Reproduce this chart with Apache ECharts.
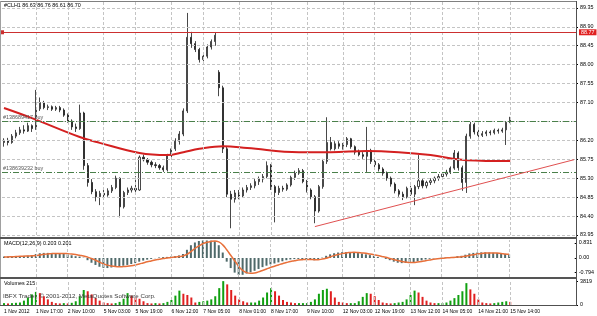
<!DOCTYPE html>
<html><head><meta charset="utf-8">
<script src="https://cdn.jsdelivr.net/npm/echarts@6/dist/echarts.min.js"></script>
<style>html,body{margin:0;padding:0;background:#fff}#c{width:597px;height:316px}</style>
</head><body><div id="c"></div>
<script>
const headerText = '#CLH1 86.63 86.76 86.61 86.70';
const macdText = 'MACD(12,26,9) 0.203 0.201';
const volText = 'Volumes 215';
const watermark = 'IBFX Trader, \u00a9 2001-2012, MetaQuotes Software Corp.';

const open  = [86.15,86.20,86.15,86.30,86.38,86.45,86.42,86.55,86.48,86.95,87.10,86.98,87.00,86.94,86.98,86.92,86.80,86.66,86.52,86.48,86.85,85.60,85.20,84.98,84.86,84.94,84.90,85.00,85.08,85.30,84.62,84.96,85.02,85.06,85.02,85.80,85.74,85.68,85.62,85.60,85.55,85.50,85.85,86.00,86.18,86.35,86.90,88.65,88.50,88.36,88.12,88.20,88.42,88.55,87.82,87.45,86.00,84.92,84.80,84.95,84.88,85.02,85.08,85.12,85.22,85.28,85.34,85.60,85.10,84.96,85.06,85.04,85.14,85.32,85.42,85.48,85.22,85.02,84.86,84.52,85.10,85.70,86.15,86.00,86.12,86.06,86.10,86.24,86.05,85.92,85.86,85.82,85.96,85.70,85.62,85.52,85.42,85.30,85.16,85.00,84.92,84.86,85.06,84.92,85.10,85.24,85.12,85.20,85.24,85.30,85.34,85.40,85.44,85.54,85.90,85.55,85.20,86.30,86.58,86.40,86.32,86.36,86.40,86.38,86.44,86.42,86.45,86.63];
const close = [86.20,86.15,86.30,86.38,86.45,86.42,86.55,86.48,86.95,87.10,86.98,87.00,86.94,86.98,86.92,86.80,86.66,86.52,86.48,86.85,85.60,85.20,84.98,84.86,84.94,84.90,85.00,85.08,85.30,84.62,84.96,85.02,85.06,85.02,85.80,85.74,85.68,85.62,85.60,85.55,85.50,85.85,86.00,86.18,86.35,86.90,88.65,88.50,88.36,88.12,88.20,88.42,88.55,88.70,87.45,86.00,84.92,84.80,84.95,84.88,85.02,85.08,85.12,85.22,85.28,85.34,85.60,85.10,84.96,85.06,85.04,85.14,85.32,85.42,85.48,85.22,85.02,84.86,84.52,85.10,85.70,86.15,86.00,86.12,86.06,86.10,86.24,86.05,85.92,85.86,85.82,85.96,85.70,85.62,85.52,85.42,85.30,85.16,85.00,84.92,84.86,85.06,84.92,85.10,85.24,85.12,85.20,85.24,85.30,85.34,85.40,85.44,85.54,85.90,85.55,85.20,86.30,86.58,86.40,86.32,86.36,86.40,86.38,86.44,86.42,86.45,86.63,86.70];
const low   = [86.05,86.08,86.12,86.25,86.33,86.36,86.40,86.40,86.45,86.90,86.94,86.92,86.90,86.90,86.87,86.76,86.62,86.45,86.40,86.45,85.50,85.10,84.92,84.75,84.66,84.82,84.86,84.95,85.04,84.37,84.58,84.90,84.96,84.96,85.00,85.70,85.62,85.56,85.54,85.50,85.45,85.46,85.80,85.95,86.10,86.30,86.85,88.40,88.30,88.05,88.08,88.15,88.36,88.45,87.25,85.90,84.85,84.11,84.72,84.80,84.84,84.96,85.02,85.06,85.14,85.20,85.30,85.02,84.25,84.90,84.98,85.00,85.10,85.26,85.38,85.18,84.96,84.80,84.23,84.48,85.05,85.64,85.96,85.96,86.00,85.98,86.04,86.00,85.86,85.82,85.76,85.45,85.64,85.56,85.46,85.36,85.24,85.10,84.94,84.86,84.78,84.82,84.88,84.66,85.04,85.06,85.06,85.14,85.18,85.24,85.28,85.34,85.40,85.50,85.48,85.00,84.95,86.24,86.34,86.26,86.28,86.30,86.32,86.34,86.36,86.38,86.09,86.61];
const high  = [86.25,86.26,86.35,86.45,86.52,86.56,86.62,86.58,87.40,87.22,87.14,87.05,87.03,87.02,87.02,86.96,86.84,86.70,86.60,87.05,86.88,85.66,85.28,85.04,85.00,85.02,85.06,85.14,85.36,85.32,85.00,85.08,85.12,85.35,85.84,85.86,85.78,85.72,85.68,85.64,85.60,85.88,86.05,86.25,86.42,86.96,89.23,88.78,88.56,88.40,88.26,88.48,88.60,88.77,87.87,87.50,86.05,85.00,85.02,85.02,85.08,85.14,85.18,85.28,85.34,85.40,85.70,85.64,85.14,85.12,85.12,85.18,85.36,85.48,85.54,85.52,85.26,85.06,84.90,85.14,85.76,86.75,86.28,86.18,86.18,86.14,86.28,86.26,86.08,85.98,85.92,86.52,86.00,85.74,85.66,85.56,85.46,85.34,85.20,85.04,84.98,85.10,85.12,85.14,85.85,85.28,85.24,85.30,85.34,85.40,85.44,85.50,85.58,85.97,85.94,85.60,86.36,86.64,86.62,86.46,86.42,86.44,86.44,86.48,86.48,86.50,86.66,86.76];

const volumes = [300,250,300,350,
 400,700,1200,1700,2100,1900,1400,900,500,300,250,
 300,250,350,
 600,1400,2400,2200,1700,1100,700,400,300,250,300,
 500,1000,1900,1500,1200,1000,600,300,
 250,300,250,
 300,500,800,1500,2300,1800,1600,1200,400,500,600,700,900,1400,
 2700,3819,3300,2400,1500,900,600,400,400,
 400,700,1200,2000,2700,2200,1500,800,500,400,300,300,300,
 300,500,900,1800,2400,2600,2200,1200,500,400,300,300,
 300,600,1300,1900,1800,1400,800,400,300,250,300,400,
 500,900,1600,2300,2000,1300,700,400,300,300,300,
 400,700,1100,1600,2200,3500,2500,1800,900,400,300,250,300,400,500,600,500];

const macdMain = [0.08,0.09,0.10,0.10,0.11,0.12,0.13,0.15,
 0.22,0.26,0.28,0.28,0.28,0.27,0.26,0.24,0.20,
 0.15,0.10,0.08,0.02,
 -0.12,-0.26,-0.38,-0.48,-0.54,
 -0.55,-0.52,-0.48,-0.45,-0.42,-0.38,-0.33,-0.28,-0.20,-0.14,-0.09,-0.05,-0.01,
 0.03,0.05,0.06,0.08,0.10,0.14,0.22,
 0.45,0.70,0.85,0.93,
 0.96,0.96,0.95,0.92,
 0.70,0.30,
 -0.20,-0.55,-0.80,-0.93,-0.92,
 -0.85,-0.78,-0.70,-0.60,-0.50,-0.42,-0.35,-0.30,-0.24,-0.18,-0.12,
 -0.08,-0.06,-0.05,-0.06,-0.08,-0.10,-0.12,-0.08,
 0.02,0.12,0.20,0.26,0.30,0.32,0.33,
 0.32,0.30,0.27,0.24,0.20,0.16,0.11,0.06,0.01,
 -0.05,-0.12,-0.20,-0.26,-0.28,-0.27,-0.25,-0.22,-0.18,-0.13,-0.08,
 -0.04,-0.02,0.00,0.02,0.03,0.04,0.06,
 0.10,0.12,0.18,
 0.25,0.28,0.30,0.31,0.31,0.30,0.29,0.27,0.25,0.22,0.203];
const macdSignal = [0.05,0.06,0.07,0.08,0.09,0.10,0.11,0.12,
 0.14,0.17,0.20,0.22,0.24,0.25,0.25,0.25,0.24,
 0.22,0.19,0.15,0.11,
 0.05,-0.03,-0.12,-0.22,-0.32,
 -0.39,-0.44,-0.47,-0.48,-0.47,-0.45,-0.42,-0.38,-0.33,-0.27,-0.21,-0.16,-0.11,
 -0.07,-0.03,0.00,0.03,0.05,0.08,0.11,
 0.20,0.35,0.52,0.66,
 0.78,0.86,0.91,0.93,
 0.88,0.72,
 0.45,0.15,-0.15,-0.45,-0.68,
 -0.80,-0.84,-0.82,-0.76,-0.68,-0.60,-0.52,-0.45,-0.38,-0.31,-0.25,
 -0.19,-0.15,-0.11,-0.09,-0.08,-0.08,-0.09,-0.09,
 -0.06,-0.01,0.06,0.13,0.19,0.24,0.28,
 0.30,0.31,0.30,0.28,0.26,0.22,0.18,0.14,0.09,
 0.04,-0.02,-0.08,-0.14,-0.19,-0.22,-0.24,-0.24,-0.22,-0.19,-0.15,
 -0.11,-0.07,-0.04,-0.02,0.00,0.02,0.03,
 0.05,0.07,0.10,
 0.14,0.18,0.22,0.25,0.27,0.28,0.28,0.27,0.25,0.22,0.201];

const maIdx = [0,7,19,24,34,41,45,49,55,61,74,82,91,99,107,116,127];
const maVal = [86.97,86.73,86.28,86.14,85.90,85.85,85.92,86.00,86.06,86.02,85.92,85.92,85.95,85.92,85.85,85.73,85.71];

const priceTicks = [83.95,84.40,84.85,85.30,85.75,86.20,86.65,87.10,87.55,88.00,88.45,88.90,89.35];
const macdTicks = [0.831,0,-0.794];
const volTicks = [0,3819];
const timeLabels = ['1 Nov 2012','1 Nov 17:00','2 Nov 10:00','5 Nov 03:00','5 Nov 19:00','6 Nov 12:00','7 Nov 05:00','8 Nov 01:00','8 Nov 17:00','9 Nov 10:00','12 Nov 03:00','12 Nov 19:00','13 Nov 12:00','14 Nov 05:00','14 Nov 21:00','15 Nov 14:00'];
const timeIdx = [0,8,16,25,33,42,50,59,67,76,85,93,102,110,119,127];

const resistance = 88.77;
const buyLevels = [86.66, 85.45];
const buyLabels = ['#138689417 buy', '#138639232 buy'];
const lastPrice = 86.70;
const trendStart = [78, 84.15];
const trendEnd = [143, 85.74];
const SLOTS = 144;

const FONT = 'Liberation Sans';
const FS = 5.4;
const slots = Array.from({length: SLOTS}, (_, i) => String(i));
const candles = open.map((o, i) => [o, close[i], low[i], high[i]]);
const volData = volumes.map((v, i) => ({
  value: v,
  itemStyle: {color: (i > 0 && v < volumes[i - 1]) ? '#e02020' : '#10a010'}
}));
const gridColor = '#c4c4c4';
const vGrid = timeIdx.filter(i => i > 0).map(i => ({xAxis: i}));

function gridSeries(g, withH) {
  const d = vGrid.slice();
  if (withH) priceTicks.forEach(v => d.push({yAxis: v}));
  return {
    type: 'line', xAxisIndex: g, yAxisIndex: g, data: [], silent: true, z: 0,
    markLine: {silent: true, symbol: 'none', animation: false,
      lineStyle: {color: gridColor, type: [3, 2], width: 1},
      label: {show: false}, data: d}
  };
}

const xAxisBase = (g, showLabel) => ({
  type: 'category', gridIndex: g, data: slots, boundaryGap: true,
  axisLine: {show: false}, axisTick: {show: false}, splitLine: {show: false},
  axisLabel: showLabel ? {
    show: true, interval: (idx) => timeIdx.indexOf(idx) >= 0,
    formatter: (val, idx) => { const k = timeIdx.indexOf(Number(val)); return k >= 0 ? timeLabels[k] : ''; },
    align: 'left', margin: 4, color: '#000', fontSize: 5.0, fontFamily: FONT
  } : {show: false}
});

const yLabelStyle = {color: '#000', fontSize: FS, fontFamily: FONT, margin: 4};

const option = {
  animation: false,
  backgroundColor: '#ffffff',
  grid: [
    {left: 2, top: 2, width: 574, height: 233},
    {left: 2, top: 240, width: 574, height: 37},
    {left: 2, top: 280, width: 574, height: 25}
  ],
  xAxis: [xAxisBase(0, false), xAxisBase(1, false), xAxisBase(2, true)],
  yAxis: [
    {type: 'value', gridIndex: 0, position: 'right', min: 83.95, max: 89.49, scale: true,
      axisLine: {show: false}, splitLine: {show: false},
      axisTick: {show: true, length: 2, lineStyle: {color: '#000'},
        customValues: priceTicks.filter(v => Math.abs(v - lastPrice) > 0.1)},
      axisLabel: Object.assign({customValues: priceTicks.filter(v => Math.abs(v - lastPrice) > 0.1),
        formatter: v => Number(v).toFixed(2)}, yLabelStyle)},
    {type: 'value', gridIndex: 1, position: 'right', min: -1.04, max: 0.986,
      axisLine: {show: false}, splitLine: {show: false},
      axisTick: {show: true, length: 2, lineStyle: {color: '#000'}, customValues: macdTicks},
      axisLabel: Object.assign({customValues: macdTicks,
        formatter: v => (Math.abs(v) < 1e-9 ? '0.00' : String(v))}, yLabelStyle)},
    {type: 'value', gridIndex: 2, position: 'right', min: 0, max: 4000,
      axisLine: {show: false}, splitLine: {show: false},
      axisTick: {show: true, length: 2, lineStyle: {color: '#000'}, customValues: volTicks},
      axisLabel: Object.assign({customValues: volTicks, formatter: v => String(v)}, yLabelStyle)}
  ],
  series: [
    gridSeries(0, true), gridSeries(1, false), gridSeries(2, false),
    {
      type: 'candlestick', xAxisIndex: 0, yAxisIndex: 0, data: candles, barWidth: 1.6, z: 3,
      itemStyle: {color: '#ffffff', color0: '#202020', borderColor: '#1a1a1a', borderColor0: '#1a1a1a', borderWidth: 0.8},
      markLine: {
        silent: true, animation: false, symbol: 'none',
        data: [
          {yAxis: resistance, symbol: ['emptyRect', 'emptyRect'], symbolSize: 4,
            lineStyle: {color: '#cc3030', type: 'solid', width: 1},
            label: {show: true, position: 'end', distance: 3, formatter: resistance.toFixed(2),
              color: '#fff', backgroundColor: '#e02020', padding: [1, 2, 0, 2], fontSize: FS, fontFamily: FONT}},
          {yAxis: buyLevels[0], lineStyle: {color: '#4a804a', type: [6, 2, 1, 2], width: 1},
            label: {show: true, position: 'insideStartTop', distance: 1, formatter: buyLabels[0],
              color: '#555', fontSize: FS, fontFamily: FONT}},
          {yAxis: buyLevels[1], lineStyle: {color: '#4a804a', type: [6, 2, 1, 2], width: 1},
            label: {show: true, position: 'insideStartTop', distance: 1, formatter: buyLabels[1],
              color: '#555', fontSize: FS, fontFamily: FONT}},
          {yAxis: lastPrice, lineStyle: {opacity: 0},
            label: {show: true, position: 'end', distance: 3, formatter: lastPrice.toFixed(2),
              color: '#fff', backgroundColor: '#000', padding: [1, 2, 0, 2], fontSize: FS, fontFamily: FONT}},
          [{coord: trendStart, lineStyle: {color: '#e05050', width: 1, type: 'solid'}, label: {show: false}},
           {coord: trendEnd}]
        ]
      }
    },
    {
      type: 'line', xAxisIndex: 0, yAxisIndex: 0, z: 4,
      data: maIdx.map((x, k) => [x, maVal[k]]), smooth: 0.4, showSymbol: false, silent: true,
      lineStyle: {color: '#d42020', width: 2}
    },
    {
      type: 'bar', xAxisIndex: 1, yAxisIndex: 1, data: macdMain, barWidth: 2, z: 3,
      itemStyle: {color: '#4f6a6a'}
    },
    {
      type: 'line', xAxisIndex: 1, yAxisIndex: 1, data: macdSignal, showSymbol: false, smooth: true, z: 4,
      lineStyle: {color: '#e8703a', width: 1.5}
    },
    {
      type: 'bar', xAxisIndex: 2, yAxisIndex: 2, data: volData, barWidth: 2, z: 3
    }
  ],
  graphic: [
    {type: 'line', shape: {x1: 0, y1: 1.5, x2: 576, y2: 1.5}, style: {stroke: '#808080', lineWidth: 1}, z: 10},
    {type: 'line', shape: {x1: 0.5, y1: 1, x2: 0.5, y2: 306}, style: {stroke: '#a0a0a0', lineWidth: 1}, z: 10},
    {type: 'line', shape: {x1: 576.5, y1: 1, x2: 576.5, y2: 306}, style: {stroke: '#505050', lineWidth: 1}, z: 10},
    {type: 'rect', shape: {x: 0, y: 237, width: 577, height: 2}, style: {fill: '#555'}, z: 10},
    {type: 'rect', shape: {x: 0, y: 277, width: 577, height: 2}, style: {fill: '#555'}, z: 10},
    {type: 'line', shape: {x1: 0, y1: 305.5, x2: 577, y2: 305.5}, style: {stroke: '#505050', lineWidth: 1}, z: 10},
    {type: 'text', left: 4, top: 3, style: {text: headerText, fill: '#000', font: FS + 'px "' + FONT + '"'}, z: 11},
    {type: 'text', left: 4, top: 241, style: {text: macdText, fill: '#000', font: FS + 'px "' + FONT + '"'}, z: 11},
    {type: 'text', left: 4, top: 281, style: {text: volText, fill: '#000', font: FS + 'px "' + FONT + '"'}, z: 11},
    {type: 'text', left: 3, top: 293, style: {text: watermark, fill: '#3a3a3a', font: '6.2px "' + FONT + '"'}, z: 11}
  ]
};
const chart = echarts.init(document.getElementById('c'), null, {renderer: 'canvas'});
chart.setOption(option);
</script></body></html>
